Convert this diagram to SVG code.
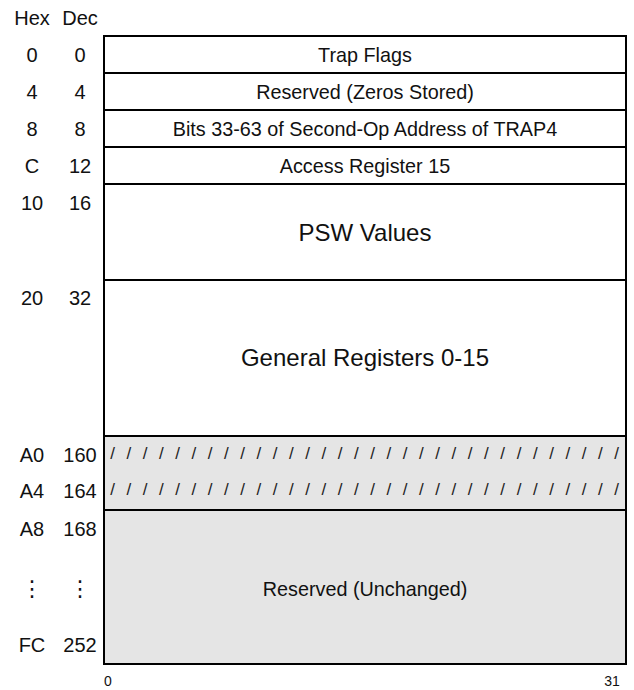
<svg xmlns="http://www.w3.org/2000/svg" width="634" height="690" viewBox="0 0 634 690">
<style>
text{font-family:"Liberation Sans",Arial,sans-serif;fill:#111}
.lbl{font-size:20px;text-anchor:middle}
.big{font-size:24px;text-anchor:middle}
.f{font-size:19.8px;text-anchor:middle}
.sl{font-size:17px;text-anchor:middle;fill:#222}
.ax{font-size:14px;text-anchor:middle}
.el{font-family:"DejaVu Sans",sans-serif;font-size:22px;text-anchor:middle}
.box{fill:#fff;stroke:#000;stroke-width:2}
.grey{fill:#e5e5e5;stroke:#000;stroke-width:2}
</style>
<rect width="634" height="690" fill="#fff"/>
<g id="header">
<text class="lbl" x="32" y="24.5">Hex</text>
<text class="lbl" x="80" y="24.5">Dec</text>
</g>
<g id="row-trap-flags">
<rect class="box" x="104" y="36" width="522" height="37"/>
<text class="f" x="365" y="62">Trap Flags</text>
</g>
<g id="row-reserved-zeros">
<rect class="box" x="104" y="73" width="522" height="37"/>
<text class="f" x="365" y="99">Reserved (Zeros Stored)</text>
</g>
<g id="row-bits">
<rect class="box" x="104" y="110" width="522" height="37"/>
<text class="f" x="365" y="136">Bits 33-63 of Second-Op Address of TRAP4</text>
</g>
<g id="row-access-register">
<rect class="box" x="104" y="147" width="522" height="37"/>
<text class="f" x="365" y="173">Access Register 15</text>
</g>
<g id="row-psw">
<rect class="box" x="104" y="184" width="522" height="96"/>
<text class="big" x="365" y="241">PSW Values</text>
</g>
<g id="row-general-registers">
<rect class="box" x="104" y="280" width="522" height="156"/>
<text class="big" x="365" y="366">General Registers 0-15</text>
</g>
<g id="row-hatched">
<rect class="grey" x="104" y="436" width="522" height="74"/>
<text class="sl" x="112.5 128.76 145.02 161.28 177.54 193.8 210.06 226.32 242.58 258.84 275.1 291.36 307.62 323.88 340.14 356.4 372.66 388.92 405.18 421.44 437.7 453.96 470.22 486.48 502.74 519 535.26 551.52 567.78 584.04 600.3 616.56" y="459">////////////////////////////////</text>
<text class="sl" x="112.5 128.76 145.02 161.28 177.54 193.8 210.06 226.32 242.58 258.84 275.1 291.36 307.62 323.88 340.14 356.4 372.66 388.92 405.18 421.44 437.7 453.96 470.22 486.48 502.74 519 535.26 551.52 567.78 584.04 600.3 616.56" y="495">////////////////////////////////</text>
</g>
<g id="row-reserved-unchanged">
<rect class="grey" x="104" y="510" width="522" height="154"/>
<text class="f" x="365" y="596">Reserved (Unchanged)</text>
</g>
<g id="offsets">
<text class="lbl" x="32" y="62">0</text><text class="lbl" x="80" y="62">0</text>
<text class="lbl" x="32" y="99">4</text><text class="lbl" x="80" y="99">4</text>
<text class="lbl" x="32" y="136">8</text><text class="lbl" x="80" y="136">8</text>
<text class="lbl" x="32" y="173">C</text><text class="lbl" x="80" y="173">12</text>
<text class="lbl" x="32" y="210">10</text><text class="lbl" x="80" y="210">16</text>
<text class="lbl" x="32" y="305">20</text><text class="lbl" x="80" y="305">32</text>
<text class="lbl" x="32" y="462">A0</text><text class="lbl" x="80" y="462">160</text>
<text class="lbl" x="32" y="498">A4</text><text class="lbl" x="80" y="498">164</text>
<text class="lbl" x="32" y="536">A8</text><text class="lbl" x="80" y="536">168</text>
<text class="el" x="32" y="596">⋮</text><text class="el" x="80" y="596">⋮</text>
<text class="lbl" x="32" y="652">FC</text><text class="lbl" x="80" y="652">252</text>
</g>
<g id="bit-axis">
<text class="ax" x="108" y="686">0</text>
<text class="ax" x="612" y="686">31</text>
</g>
</svg>
